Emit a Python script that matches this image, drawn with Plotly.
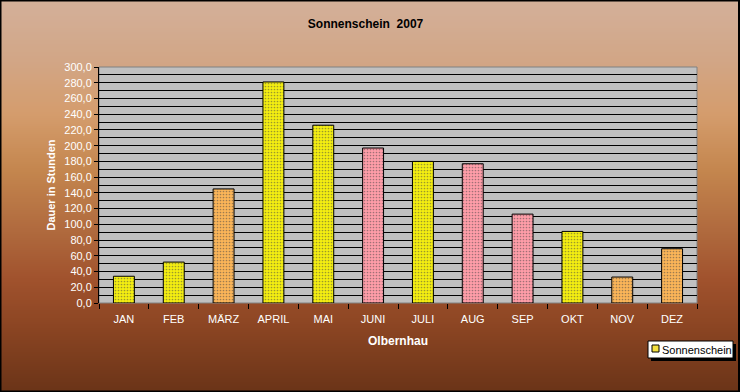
import plotly.graph_objects as go

# ---- data ----
months = ["JAN", "FEB", "MÄRZ", "APRIL", "MAI", "JUNI", "JULI", "AUG", "SEP", "OKT", "NOV", "DEZ"]
sunshine_hours = [34, 52, 145, 281, 226, 197, 180, 177, 113, 91, 33, 69]
bar_tone = ["y", "y", "o", "y", "y", "p", "y", "p", "p", "y", "o", "o"]
series_name = "Sonnenschein"
chart_title = "Sonnenschein\u00a0 2007"
x_title = "Olbernhau"
y_title = "Dauer in Stunden"

# ---- layout geometry (pixels) ----
W, H = 740, 392
L, R, T, B = 99, 43, 67, 89
PW, PH = W - L - R, H - T - B

def px_x(p):
    return (p - L) / PW

def px_y(p):
    return (H - B - p) / PH

tone_bg = {"y": "#F4EE10", "o": "#FBB558", "p": "#FF9DA8"}
tone_fg = {"y": "#FF9AB0", "o": "#FF8CB0", "p": "#FFD070"}

fig = go.Figure()
fig.add_trace(go.Bar(
    x=months, y=sunshine_hours, name=series_name,
    marker=dict(
        color=[tone_bg[t] for t in bar_tone],
        line=dict(color="black", width=1),
        pattern=dict(shape=".", size=3,
                     fgcolor=[tone_fg[t] for t in bar_tone],
                     solidity=0.25,
                     fillmode="overlay"),
    ),
    showlegend=False,
))

# ---- background gradient via strips ----
stops = [(0, (211, 176, 154)), (60, (210, 166, 134)), (115, (212, 156, 108)),
         (170, (196, 134, 78)), (230, (176, 106, 62)), (280, (160, 82, 45)),
         (330, (138, 68, 34)), (392, (106, 52, 24))]

def grad(p):
    for (a, ca), (b, cb) in zip(stops[:-1], stops[1:]):
        if a <= p <= b:
            t = (p - a) / (b - a)
            return "rgb(%d,%d,%d)" % tuple(round(ca[i] + (cb[i] - ca[i]) * t) for i in range(3))
    return "rgb(106,52,24)"

shapes = []
step = 2
for p in range(0, H, step):
    shapes.append(dict(type="rect", xref="paper", yref="paper", layer="below",
                       x0=px_x(-1), x1=px_x(W + 1), y0=px_y(p + step + 0.6), y1=px_y(p),
                       fillcolor=grad(p + step / 2), line=dict(width=0)))
# plot area
shapes.append(dict(type="rect", xref="paper", yref="paper", layer="below",
                   x0=0, x1=1, y0=0, y1=1, fillcolor="#C0C0C0",
                   line=dict(color="#808080", width=1)))
# outer border
shapes.append(dict(type="rect", xref="paper", yref="paper", layer="above",
                   x0=px_x(0.5), x1=px_x(W - 1), y0=px_y(H - 0.5), y1=px_y(0.5),
                   line=dict(color="black", width=2)))
# custom legend: shadow, box, symbol
lx0, lx1, ly0, ly1 = 648, 733, 341, 358
shapes.append(dict(type="rect", xref="paper", yref="paper", layer="above",
                   x0=px_x(lx0 + 3), x1=px_x(lx1 + 3), y0=px_y(ly1 + 3), y1=px_y(ly0 + 3),
                   fillcolor="black", line=dict(width=0)))
shapes.append(dict(type="rect", xref="paper", yref="paper", layer="above",
                   x0=px_x(lx0), x1=px_x(lx1), y0=px_y(ly1), y1=px_y(ly0),
                   fillcolor="white", line=dict(color="black", width=1)))
shapes.append(dict(type="rect", xref="paper", yref="paper", layer="above",
                   x0=px_x(652), x1=px_x(659), y0=px_y(352), y1=px_y(345),
                   fillcolor="#F4E040", line=dict(color="black", width=1)))

annotations = [dict(text=series_name, xref="paper", yref="paper",
                    x=px_x(660), y=px_y(349.5), xanchor="left", yanchor="middle",
                    showarrow=False, font=dict(family="Arial, Liberation Sans", size=11, color="black"))]

fig.update_layout(
    width=W, height=H,
    margin=dict(l=L, r=R, t=T, b=B),
    paper_bgcolor="#B07040",
    plot_bgcolor="rgba(0,0,0,0)",
    separators=",.",
    bargap=0.58,
    font=dict(family="Arial, Liberation Sans", size=11, color="white"),
    title=dict(text="<b>" + chart_title + "</b>", x=0.494, xref="container", xanchor="center",
               y=1 - 24 / H, yref="container", yanchor="middle",
               font=dict(family="Arial, Liberation Sans", size=12, color="black")),
    xaxis=dict(
        showline=False,
        ticks="outside", ticklen=5, tickcolor="black", tickson="boundaries",
        ticklabelstandoff=8,
        tickfont=dict(size=11, color="white"),
        title=dict(text="<b>" + x_title + "</b>", font=dict(size=12, color="white"), standoff=12),
        showgrid=False,
    ),
    yaxis=dict(
        range=[0, 300], dtick=20, tickformat=".1f",
        showline=True, linecolor="black", linewidth=1,
        ticks="outside", ticklen=4, tickcolor="black",
        tickfont=dict(size=11, color="white"),
        showgrid=True, gridcolor="black", gridwidth=1,
        minor=dict(dtick=10, showgrid=True, gridcolor="black", gridwidth=1),
        zeroline=False,
        title=dict(text="<b>" + y_title + "</b>", font=dict(size=11, color="white"), standoff=6),
    ),
    shapes=shapes,
    annotations=annotations,
)

fig.write_html("out.html", config={"displayModeBar": False},
               post_script="document.body.style.margin='0';document.body.style.overflow='hidden';")
